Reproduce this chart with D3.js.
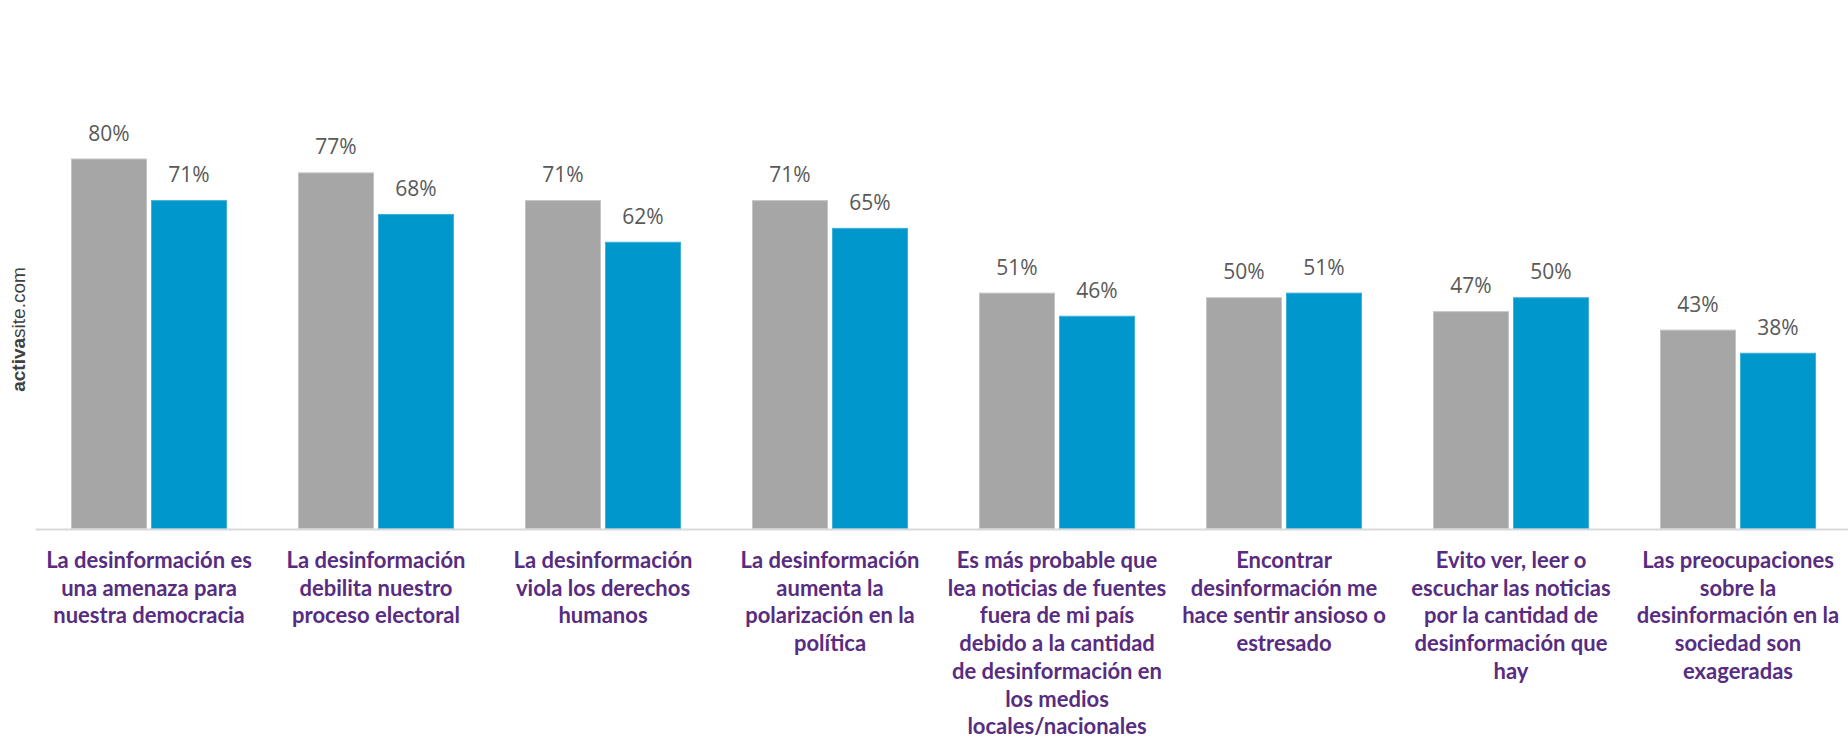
<!DOCTYPE html>
<html>
<head>
<meta charset="utf-8">
<script src="https://cdn.jsdelivr.net/npm/d3@7"></script>
<style>
	body { margin: 0; background: #ffffff; }
	.valueLabel { font-family: "Open Sans", sans-serif; font-size: 21px; fill: #595959; }
	.catLabel { font-family: Lato, sans-serif; font-size: 22px; font-weight: bold; fill: #582c80; }
</style>
</head>
<body>
<div id="chart"></div>
<script>
var categories = [
	["La desinformación es", "una amenaza para", "nuestra democracia"],
	["La desinformación", "debilita nuestro", "proceso electoral"],
	["La desinformación", "viola los derechos", "humanos"],
	["La desinformación", "aumenta la", "polarización en la", "política"],
	["Es más probable que", "lea noticias de fuentes", "fuera de mi país", "debido a la cantidad", "de desinformación en", "los medios", "locales/nacionales"],
	["Encontrar", "desinformación me", "hace sentir ansioso o", "estresado"],
	["Evito ver, leer o", "escuchar las noticias", "por la cantidad de", "desinformación que", "hay"],
	["Las preocupaciones", "sobre la", "desinformación en la", "sociedad son", "exageradas"]
];

var seriesNames = ["grey", "blue"];
var greyValues = [80, 77, 71, 71, 51, 50, 47, 43];
var blueValues = [71, 68, 62, 65, 46, 51, 50, 38];

var seriesColors = {grey: "#a6a6a6", blue: "#0097cc"};
var seriesStroke = {grey: "#c4c4c4", blue: "#3fb0d9"};

function drawChart(){
	var width = 1848, height = 746;
	var baseline = 528.5;

	var svg = d3.select("#chart").append("svg")
		.attr("width", width)
		.attr("height", height);

	var idx = d3.range(categories.length);

	var x0 = d3.scaleBand()
		.domain(idx)
		.range([35.5, 35.5 + 227 * categories.length])
		.paddingInner(0.3128)
		.paddingOuter(0.1564);

	var x1 = d3.scaleBand()
		.domain(seriesNames)
		.range([0, x0.bandwidth()])
		.paddingInner(0.05);

	var y = d3.scaleLinear()
		.domain([0, 100])
		.range([baseline, baseline - 462.5]);

	var rows = idx.map(function(i){
		return {i: i, grey: greyValues[i], blue: blueValues[i]};
	});

	var group = svg.selectAll(".group")
		.data(rows)
		.enter().append("g")
		.attr("class", "group")
		.attr("transform", function(d){ return "translate(" + x0(d.i) + ",0)"; });

	var bar = group.selectAll(".bar")
		.data(function(d){ return seriesNames.map(function(s){ return {key: s, value: d[s]}; }); })
		.enter();

	bar.append("rect")
		.attr("class", "bar")
		.attr("x", function(d){ return x1(d.key) + 0.5; })
		.attr("y", function(d){ return y(d.value) + 0.5; })
		.attr("width", x1.bandwidth() - 1)
		.attr("height", function(d){ return baseline - y(d.value) - 0.5; })
		.style("fill", function(d){ return seriesColors[d.key]; })
		.style("stroke", function(d){ return seriesStroke[d.key]; })
		.style("stroke-width", 1);

	bar.append("text")
		.attr("class", "valueLabel")
		.attr("x", function(d){ return x1(d.key) + x1.bandwidth() / 2; })
		.attr("y", function(d){ return y(d.value) - 18; })
		.attr("text-anchor", "middle")
		.text(function(d){ return d.value + "%"; });

	// base line
	svg.append("line")
		.attr("x1", x0.range()[0])
		.attr("x2", width)
		.attr("y1", baseline + 1)
		.attr("y2", baseline + 1)
		.style("stroke", "#d9d9d9")
		.style("stroke-width", 2);

	// category labels, one tspan per line
	var lab = svg.selectAll(".catLabel")
		.data(idx)
		.enter().append("text")
		.attr("class", "catLabel")
		.attr("text-anchor", "middle")
		.attr("transform", function(i){ return "translate(" + (x0(i) + x0.bandwidth() / 2) + ",568)"; });

	lab.selectAll("tspan")
		.data(function(i){ return categories[i]; })
		.enter().append("tspan")
		.attr("x", 0)
		.attr("y", function(d, k){ return k * 27.7; })
		.text(function(d){ return d; });

	// watermark
	var wm = svg.append("text")
		.attr("transform", "translate(25,329.5) rotate(-90)")
		.attr("text-anchor", "middle")
		.style("font-family", "'Liberation Sans', Arial, sans-serif")
		.style("font-size", "19px")
		.style("fill", "#404040");
	wm.append("tspan").style("font-weight", "bold").text("activa");
	wm.append("tspan").text("site.com");
}

drawChart();
</script>
</body>
</html>
